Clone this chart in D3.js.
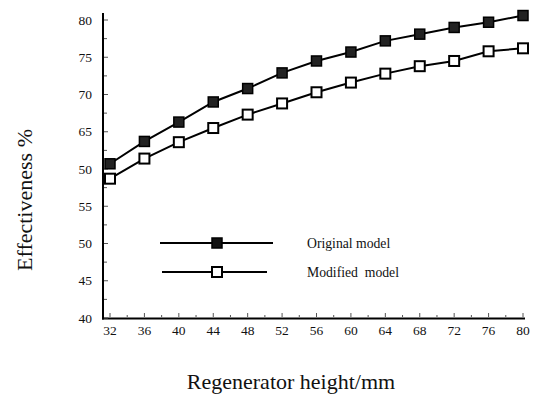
<!DOCTYPE html>
<html><head><meta charset="utf-8">
<script src="https://cdn.jsdelivr.net/npm/d3@7/dist/d3.min.js"></script>
<style>body{margin:0;background:#fff}svg{display:block}</style>
</head><body>
<svg id="c" width="535" height="398"></svg>
<script>
const heights = [32,36,40,44,48,52,56,60,64,68,72,76,80];
const original = [60.7,63.7,66.3,69.0,70.8,72.9,74.5,75.7,77.2,78.1,79.0,79.7,80.6];
const modified = [58.7,61.4,63.6,65.5,67.3,68.8,70.3,71.6,72.8,73.8,74.5,75.8,76.2];
const yTickValues = [40,45,50,55,60,65,70,75,80];
const yTickLabels = ["40","45","50","55","50","65","70","75","80"];
const xTickValues = [32,36,40,44,48,52,56,60,64,68,72,76,80];
const seriesNames = ["Original model","Modified  model"];

const svg = d3.select("#c");
const font = "'Liberation Serif','Times New Roman',serif";
const x = d3.scaleLinear().domain([32,80]).range([110,523]);
const y = d3.scaleLinear().domain([40,80]).range([318,20]);

const g = svg.append("g");
// axis lines
g.append("line").attr("x1",103).attr("x2",103).attr("y1",13).attr("y2",319.5)
  .attr("stroke","#000").attr("stroke-width",2);
g.append("line").attr("x1",102).attr("x2",525).attr("y1",318.5).attr("y2",318.5)
  .attr("stroke","#000").attr("stroke-width",2);

// y ticks (inside)
const yMinor = d3.range(40,80.01,2.5);
g.selectAll(".ymt").data(yMinor).join("line")
  .attr("x1",104).attr("x2",d=> (d%5===0)?108:107)
  .attr("y1",d=>y(d)).attr("y2",d=>y(d)).attr("stroke","#555").attr("stroke-width",1);
g.selectAll(".ytl").data(yTickValues).join("text")
  .attr("x",92).attr("y",d=>y(d)).attr("dy","0.35em").attr("text-anchor","end")
  .attr("font-family",font).attr("font-size",13.5).attr("fill","#111")
  .text((d,i)=>yTickLabels[i]);

// x ticks (inside, upward)
const xMinor = d3.range(32,80.01,2);
g.selectAll(".xmt").data(xMinor).join("line")
  .attr("x1",d=>x(d)).attr("x2",d=>x(d)).attr("y1",317)
  .attr("y2",d=> (d%4===0)?313:315).attr("stroke","#555").attr("stroke-width",1);
g.selectAll(".xtl").data(xTickValues).join("text")
  .attr("x",d=>x(d)).attr("y",335).attr("text-anchor","middle")
  .attr("font-family",font).attr("font-size",13.5).attr("fill","#111")
  .text(d=>d);

// lines
const line = d3.line().x((d,i)=>x(heights[i])).y(d=>y(d));
[original, modified].forEach((s,k)=>{
  g.append("path").attr("d",line(s)).attr("fill","none").attr("stroke","#000").attr("stroke-width",2);
});
const ms = 10;
g.selectAll(".mo").data(original).join("rect")
  .attr("x",(d,i)=>x(heights[i])-ms/2).attr("y",d=>y(d)-ms/2)
  .attr("width",ms).attr("height",ms).attr("fill","#222").attr("stroke","#000").attr("stroke-width",1.5);
g.selectAll(".mm").data(modified).join("rect")
  .attr("x",(d,i)=>x(heights[i])-ms/2).attr("y",d=>y(d)-ms/2)
  .attr("width",ms).attr("height",ms).attr("fill","#fff").attr("stroke","#000").attr("stroke-width",2);

// legend
const leg = [{x1:160,x2:273,y:243,fill:"#111",sw:1.5},{x1:162,x2:267,y:272,fill:"#fff",sw:2}];
leg.forEach((l,i)=>{
  g.append("line").attr("x1",l.x1).attr("x2",l.x2).attr("y1",l.y).attr("y2",l.y).attr("stroke","#000").attr("stroke-width",2);
  g.append("rect").attr("x",217-5).attr("y",l.y-5).attr("width",10).attr("height",10)
    .attr("fill",l.fill).attr("stroke","#000").attr("stroke-width",l.sw);
  g.append("text").attr("x",307).attr("y",l.y).attr("dy","0.35em")
    .attr("font-family",font).attr("font-size",13.7).attr("fill","#111").style("white-space","pre")
    .attr("xml:space","preserve").text(seriesNames[i]);
});

// axis titles
svg.append("text").attr("transform","translate(32,200) rotate(-90)").attr("text-anchor","middle")
  .attr("font-family",font).attr("font-size",22).attr("fill","#111").text("Effectiveness %");
svg.append("text").attr("x",291).attr("y",389).attr("text-anchor","middle")
  .attr("font-family",font).attr("font-size",22).attr("fill","#111").text("Regenerator height/mm");
</script>
</body></html>
